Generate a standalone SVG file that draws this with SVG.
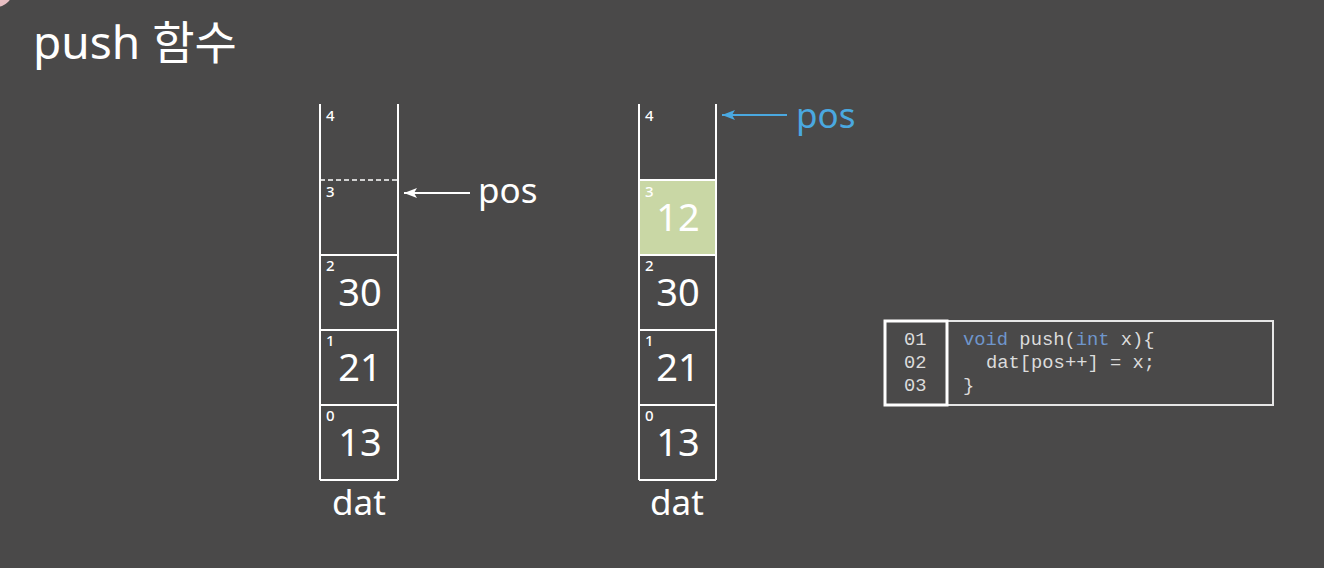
<svg xmlns="http://www.w3.org/2000/svg" width="1324" height="568" viewBox="0 0 1324 568">
<defs>
<style>
.ln{stroke:#ffffff;stroke-width:2;fill:none}
.val{font-family:"Noto Sans","Noto Sans CJK KR",sans-serif;font-size:38px;fill:#ffffff;text-anchor:middle}
.idx{font-family:"Noto Sans","Noto Sans CJK KR",sans-serif;font-size:15px;font-weight:500;fill:#ffffff}
.lbl{font-family:"Noto Sans","Noto Sans CJK KR",sans-serif;font-size:35px;fill:#ffffff}
.code{font-family:"Liberation Mono","Courier New",monospace;font-size:18.8px;fill:#dcdcdc;white-space:pre}
.kw{fill:#6f96cc}
</style>
<marker id="ahw" markerWidth="13" markerHeight="10" refX="13" refY="5" orient="auto" markerUnits="userSpaceOnUse"><path d="M0,0 L13,5 L0,10 L3,5 Z" fill="#ffffff"/></marker>
<marker id="ahb" markerWidth="13" markerHeight="10" refX="13" refY="5" orient="auto" markerUnits="userSpaceOnUse"><path d="M0,0 L13,5 L0,10 L3,5 Z" fill="#4aa8e0"/></marker>
</defs>
<rect width="1324" height="568" fill="#4a4949"/>
<circle cx="-4" cy="-10" r="17" fill="#e8bfc3"/>
<text x="33" y="59" font-family="'Noto Sans','Noto Sans CJK KR',sans-serif" font-size="46" fill="#ffffff">push 함수</text>

<g id="stack-left">
<line class="ln" x1="320" y1="104" x2="320" y2="480"/>
<line class="ln" x1="398" y1="104" x2="398" y2="480"/>
<line x1="320" y1="180" x2="398" y2="180" stroke="#ffffff" stroke-width="1.5" stroke-dasharray="5,3"/>
<line class="ln" x1="320" y1="255" x2="398" y2="255"/>
<line class="ln" x1="320" y1="330" x2="398" y2="330"/>
<line class="ln" x1="320" y1="405" x2="398" y2="405"/>
<line class="ln" x1="320" y1="480" x2="398" y2="480"/>
<text class="idx" x="326" y="121">4</text>
<text class="idx" x="326" y="197">3</text>
<text class="idx" x="326" y="271">2</text>
<text class="idx" x="326" y="346">1</text>
<text class="idx" x="326" y="421">0</text>
<text class="val" x="360" y="306">30</text>
<text class="val" x="360" y="381">21</text>
<text class="val" x="360" y="456">13</text>
<text class="lbl" x="359" y="515" text-anchor="middle">dat</text>
</g>

<g id="pos-left">
<line x1="470" y1="193" x2="404" y2="193" stroke="#ffffff" stroke-width="2" marker-end="url(#ahw)"/>
<text class="lbl" x="478" y="203">pos</text>
</g>

<g id="stack-right">
<rect x="639" y="180" width="77" height="75" fill="#c9d7a5"/>
<line class="ln" x1="639" y1="104" x2="639" y2="480"/>
<line class="ln" x1="716" y1="104" x2="716" y2="480"/>
<line class="ln" x1="639" y1="180" x2="716" y2="180"/>
<line class="ln" x1="639" y1="255" x2="716" y2="255"/>
<line class="ln" x1="639" y1="330" x2="716" y2="330"/>
<line class="ln" x1="639" y1="405" x2="716" y2="405"/>
<line class="ln" x1="639" y1="480" x2="716" y2="480"/>
<text class="idx" x="645" y="121">4</text>
<text class="idx" x="645" y="197">3</text>
<text class="idx" x="645" y="271">2</text>
<text class="idx" x="645" y="346">1</text>
<text class="idx" x="645" y="421">0</text>
<text class="val" x="678" y="231">12</text>
<text class="val" x="678" y="306">30</text>
<text class="val" x="678" y="381">21</text>
<text class="val" x="678" y="456">13</text>
<text class="lbl" x="677" y="515" text-anchor="middle">dat</text>
</g>

<g id="pos-right">
<line x1="787" y1="115" x2="722" y2="115" stroke="#4aa8e0" stroke-width="2" marker-end="url(#ahb)"/>
<text class="lbl" x="796" y="128" style="fill:#4aa8e0">pos</text>
</g>

<g id="code">
<rect x="885" y="321" width="388" height="84" fill="none" stroke="#e6e6e6" stroke-width="2"/>
<rect x="885" y="321" width="62" height="84" fill="none" stroke="#ffffff" stroke-width="3"/>
<text class="code" x="904" y="345">01</text>
<text class="code" x="904" y="368">02</text>
<text class="code" x="904" y="391">03</text>
<text class="code" x="963" y="345"><tspan class="kw">void</tspan> push(<tspan class="kw">int</tspan> x){</text>
<text class="code" x="986" y="368">dat[pos++] = x;</text>
<text class="code" x="963" y="391">}</text>
</g>
</svg>
